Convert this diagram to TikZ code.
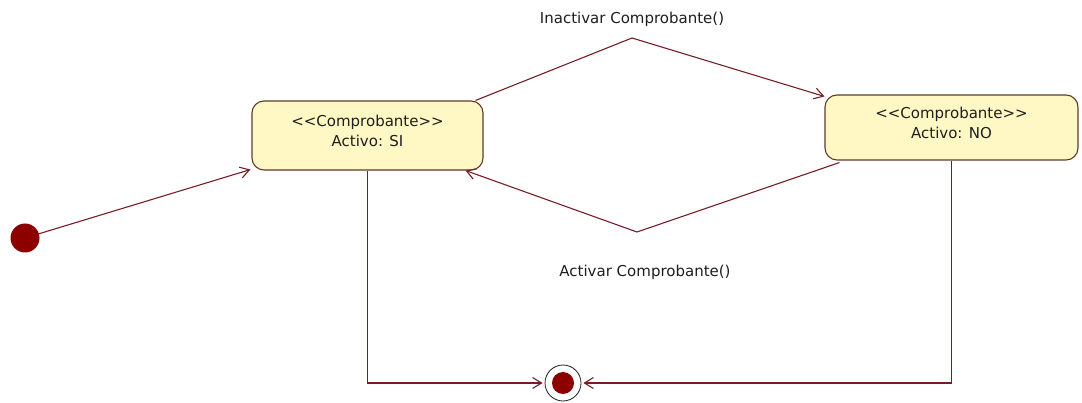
\documentclass[tikz,border=0pt]{standalone}
\usepackage{fontspec}
\setmainfont[Ligatures=NoCommon]{DejaVu Sans}
\usetikzlibrary{arrows.meta}
\definecolor{wire}{RGB}{118,30,38}
\definecolor{boxedge}{RGB}{96,60,40}
\definecolor{boxfill}{RGB}{255,248,196}
\definecolor{dotred}{RGB}{140,0,0}
\definecolor{ink}{RGB}{30,30,30}
\tikzset{
  statebox/.style={draw=boxedge, fill=boxfill, line width=1.1pt, rounded corners=12pt,
    rectangle, inner sep=0pt},
  statetext/.style={align=center, text=ink, font=\fontsize{15}{20}\selectfont, inner sep=0pt},
  translabel/.style={text=ink, font=\fontsize{15}{17}\selectfont, inner sep=0pt},
  wireline/.style={draw=wire, line width=1.1pt, -{Straight Barb[length=9pt,width=11pt]}},
  startdot/.style={circle, fill=dotred, minimum size=29pt, inner sep=0pt},
  endring/.style={circle, draw=ink, line width=0.8pt, minimum size=36pt, inner sep=0pt}
}
\newcommand{\stereo}[1]{{<}{<}#1{>}{>}}
\begin{document}
\begin{tikzpicture}[x=1pt, y=-1pt]
  \useasboundingbox (0,0) rectangle (1082,403);

  % states
  \node[statebox, minimum width=231pt, minimum height=69pt] (si) at (367.5,135.5) {};
  \node[statetext] (sitext) at ([yshift=5pt]si.center) {\stereo{Comprobante}\\Activo: SI};
  \node[statebox, minimum width=253pt, minimum height=65pt] (no) at (951.5,127.5) {};
  \node[statetext] (notext) at ([yshift=5pt]no.center) {\stereo{Comprobante}\\Activo: NO};

  % pseudo-states
  \node[startdot] (init) at (25,238) {};
  \node[endring] (fin) at (563,383) {};
  \fill[dotred] (fin.center) circle (11pt);

  % bend points of the transitions
  \coordinate (peak) at (632,38);
  \coordinate (valley) at (637,232);

  % transitions
  \draw[wireline] (init) -- ([xshift=-1pt,yshift=1pt]si.south west);
  \draw[wireline] ([xshift=-8pt]si.north east) -- (peak) -- ([yshift=-2pt]no.north west);
  \draw[wireline] ([xshift=15pt,yshift=-2pt]no.south west) -- (valley) -- ([xshift=-18pt]si.south east);
  \draw[wireline, shorten >=2pt] (si.south) |- (fin);
  \draw[wireline, shorten >=2pt] (no.south) |- (fin);

  % labels
  \node[translabel] (lblin) at (632,19) {Inactivar Comprobante()};
  \node[translabel] (lblact) at (645,272) {Activar Comprobante()};
\end{tikzpicture}
\end{document}
